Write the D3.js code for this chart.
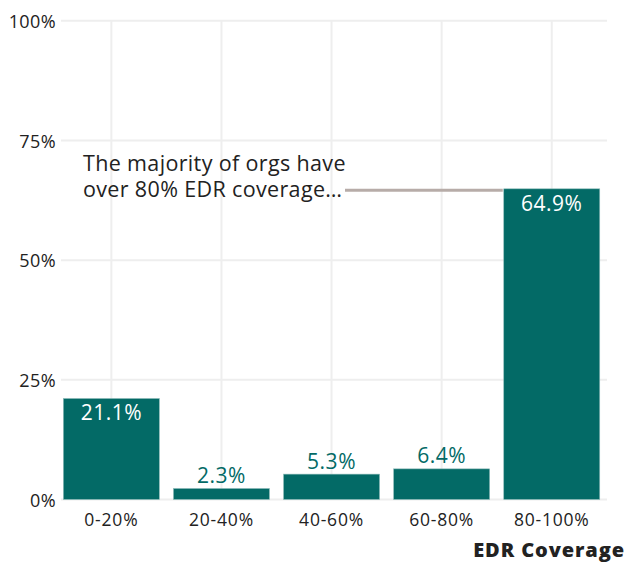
<!DOCTYPE html>
<html>
<head>
<meta charset="utf-8">
<script src="https://cdn.jsdelivr.net/npm/d3@7"></script>
<style>
  html, body { margin: 0; padding: 0; background: #ffffff; }
  svg { display: block; font-family: "Open Sans", Lato, sans-serif; }
</style>
</head>
<body>
<svg id="chart" width="625" height="563"></svg>
<script>
// EDR coverage buckets and the share of organisations in each
const categories = ["0-20%", "20-40%", "40-60%", "60-80%", "80-100%"];
const shares = [21.1, 2.3, 5.3, 6.4, 64.9];
const yTicks = [0, 25, 50, 75, 100];
const yTickLabels = ["0%", "25%", "50%", "75%", "100%"];
const axisTitle = "EDR Coverage";
const noteLines = ["The majority of orgs have", "over 80% EDR coverage\u2026"];

const svg = d3.select("#chart");
const teal = "#036a66";
const gridColor = "#eeeeee";
const textColor = "#222222";
const fontMain = "'Open Sans', Lato, sans-serif";
const textWeight = 400;

const x = d3.scaleBand()
  .domain(categories)
  .range([56.3, 606.8])
  .paddingInner(0.128)
  .paddingOuter(0.064);

const y = d3.scaleLinear().domain([0, 100]).range([499.5, 20.8]);

const gridLeft = 61, gridRight = 607;

// horizontal grid
svg.append("g").selectAll("line").data(yTicks).join("line")
  .attr("x1", gridLeft).attr("x2", gridRight)
  .attr("y1", d => y(d)).attr("y2", d => y(d))
  .attr("stroke", gridColor).attr("stroke-width", 2);

// vertical grid at category centres
svg.append("g").selectAll("line").data(categories).join("line")
  .attr("x1", d => x(d) + x.bandwidth() / 2).attr("x2", d => x(d) + x.bandwidth() / 2)
  .attr("y1", y(100)).attr("y2", y(0))
  .attr("stroke", gridColor).attr("stroke-width", 2);

// y axis labels
const yAxis = d3.axisLeft(y).tickValues(yTicks)
  .tickFormat((d, i) => yTickLabels[i]).tickSize(0).tickPadding(0);
svg.append("g").attr("transform", "translate(56,0)").call(yAxis)
  .call(g => g.select(".domain").remove())
  .selectAll("text")
  .attr("font-family", fontMain).attr("font-weight", textWeight)
  .attr("font-size", 18).attr("letter-spacing", 0.4)
  .attr("fill", textColor).attr("dy", "0.38em");

// x axis labels
const xAxis = d3.axisBottom(x).tickSize(0).tickPadding(0);
svg.append("g").attr("transform", "translate(0,513)").call(xAxis)
  .call(g => g.select(".domain").remove())
  .selectAll("text")
  .attr("font-family", fontMain).attr("font-weight", textWeight)
  .attr("font-size", 17.5).attr("letter-spacing", 0.8)
  .attr("fill", textColor).attr("dy", "0.72em");

// bars
svg.append("g").selectAll("rect").data(shares).join("rect")
  .attr("x", (d, i) => x(categories[i]))
  .attr("width", x.bandwidth())
  .attr("y", d => y(d))
  .attr("height", d => y(0) - y(d))
  .attr("fill", teal)
  .attr("stroke", "#8fbcb9").attr("stroke-width", 0.6);

// value labels: inside the tall bars, above the short ones
svg.append("g").selectAll("text").data(shares).join("text")
  .attr("x", (d, i) => x(categories[i]) + x.bandwidth() / 2)
  .attr("y", d => d > 15 ? y(d) + 22 : y(d) - 5.5)
  .attr("text-anchor", "middle")
  .attr("font-size", 21).attr("letter-spacing", 0.5).attr("font-weight", textWeight)
  .attr("fill", d => d > 15 ? "#ffffff" : teal)
  .text(d => d.toFixed(1) + "%");

// annotation
svg.append("text")
  .attr("x", 83).attr("y", 170.5)
  .attr("font-size", 21.5).attr("letter-spacing", 0.35).attr("font-weight", textWeight)
  .attr("fill", textColor)
  .selectAll("tspan").data(noteLines).join("tspan")
  .attr("x", 83).attr("dy", (d, i) => i === 0 ? 0 : 26.5)
  .text(d => d);

svg.append("line")
  .attr("x1", 345).attr("x2", x("80-100%") - 1)
  .attr("y1", y(shares[4]) + 1.5).attr("y2", y(shares[4]) + 1.5)
  .attr("stroke", "#b7aca8").attr("stroke-width", 3);

// axis title
svg.append("text")
  .attr("x", 625).attr("y", 557)
  .attr("text-anchor", "end")
  .attr("font-size", 20).attr("font-weight", 800).attr("letter-spacing", 0.9)
  .attr("fill", textColor)
  .text(axisTitle);
</script>
</body>
</html>
